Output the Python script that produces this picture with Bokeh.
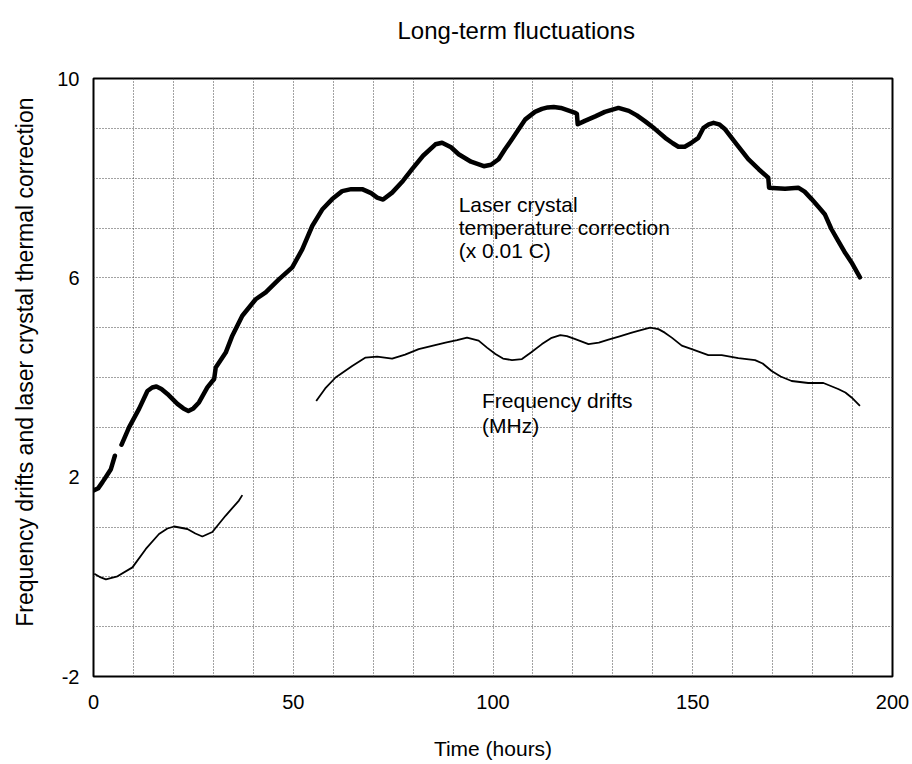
from bokeh.plotting import figure
from bokeh.models import FixedTicker, SingleIntervalTicker, Range1d, Title
from bokeh.core.properties import value
from bokeh.embed import file_html
from bokeh.resources import INLINE

# ---------------- data ----------------
x_ticks = [0, 50, 100, 150, 200]
y_ticks = [-2, 2, 6, 10]
y_tick_labels = ["-2", "2", "6", "10"]

# Laser crystal temperature correction (x 0.01 C): two pieces (gap near 6 h)
temp_seg1_x = [0, 1.2, 2.25, 3.3, 4.35, 5.35]
temp_seg1_y = [1.73, 1.78, 1.90, 2.03, 2.16, 2.43]
temp_seg2_x = [7, 8.9, 11.4, 13.5, 14.7, 15.75, 17, 18.5, 21, 22.5, 23.75, 25, 26.4,
               28.5, 30.2, 30.6, 33.1, 34.75, 37.25, 40.6, 43.1, 46.4, 49.75, 52.25,
               54.75, 57.25, 59.75, 62.25, 64.5, 67.25, 69.5, 71, 72.5, 74.75, 77.5,
               79.75, 82.5, 85.6, 87.25, 89.5, 91.4, 94.5, 97.7, 99.5, 101.4, 103,
               104.75, 108.1, 110.5, 112.25, 113.7, 115.2, 117, 118.8, 120.6, 121,
               121.2, 123, 125.6, 128, 131.4, 134, 136, 138.1, 140.5, 143.1, 145,
               146.4, 148, 149.5, 151.4, 152.7, 154, 155.2, 156.6, 158.1, 161, 163.9,
               166.5, 168.9, 169.1, 171, 173.1, 176.4, 178, 179.75, 181.5, 183.1,
               184.7, 186.4, 188, 189.75, 191.85]
temp_seg2_y = [2.65, 3.0, 3.37, 3.73, 3.80, 3.82, 3.77, 3.67, 3.47, 3.38, 3.33, 3.38, 3.50,
               3.80, 3.97, 4.2, 4.50, 4.84, 5.24, 5.57, 5.71, 5.97, 6.21, 6.57,
               7.04, 7.37, 7.58, 7.74, 7.78, 7.78, 7.70, 7.61, 7.57, 7.71, 7.95,
               8.18, 8.45, 8.68, 8.71, 8.62, 8.48, 8.33, 8.24, 8.27, 8.38, 8.58,
               8.78, 9.18, 9.33, 9.39, 9.42, 9.43, 9.41, 9.36, 9.31, 9.29,
               9.08, 9.15, 9.24, 9.33, 9.41, 9.35, 9.26, 9.14, 8.99, 8.81, 8.70,
               8.63, 8.63, 8.70, 8.81, 9.01, 9.08, 9.11, 9.08, 8.98, 8.68, 8.38,
               8.18, 8.01, 7.81, 7.80, 7.79, 7.81, 7.73, 7.58, 7.42, 7.27,
               6.98, 6.74, 6.52, 6.31, 6.01]

# Frequency drifts (MHz): two pieces
freq_seg1_x = [0.2, 1.5, 3.1, 6, 9.75, 13.1, 16.4, 18.5, 20.2, 23.5, 25.5, 27.25,
               29.75, 33.1, 36.4, 37.25]
freq_seg1_y = [0.06, 0.0, -0.05, 0.01, 0.19, 0.56, 0.86, 0.97, 1.01, 0.96, 0.87, 0.81,
               0.90, 1.23, 1.53, 1.64]
freq_seg2_x = [55.75, 58, 60.6, 64.75, 68.1, 71, 74.75, 78, 81.4, 85, 88.1, 91,
               93.5, 96.4, 98.5, 100.6, 102.5, 104.75, 107.25, 109.5, 112.25, 114.5,
               116.85, 118.5, 120.6, 123.9, 126.5, 128.9, 131.5, 134.75, 137,
               139.35, 141.4, 143, 144.75, 147.25, 149.75, 153.9, 157.25, 161.4,
               165.6, 167.5, 169.75, 172, 174.75, 178.9, 182.7, 186.4, 188.2,
               189.75, 191.85]
freq_seg2_y = [3.53, 3.78, 4.0, 4.23, 4.40, 4.42, 4.38, 4.46, 4.57, 4.64, 4.70, 4.75,
               4.80, 4.74, 4.60, 4.47, 4.38, 4.35, 4.37, 4.50, 4.67, 4.79,
               4.85, 4.83, 4.77, 4.67, 4.70, 4.76, 4.82, 4.90, 4.95,
               5.0, 4.97, 4.90, 4.80, 4.64, 4.57, 4.45, 4.45, 4.39,
               4.35, 4.28, 4.13, 4.02, 3.93, 3.89, 3.89, 3.77, 3.70,
               3.60, 3.43]

# annotation texts and anchor positions (data units)
ann_temp_lines = ["Laser crystal", "temperature correction", "(x 0.01 C)"]
ann_temp_x = [91.4, 91.4, 91.4]
ann_temp_y = [7.475, 7.01, 6.55]
ann_freq_lines = ["Frequency drifts", "(MHz)"]
ann_freq_x = [97.25, 97.25]
ann_freq_y = [3.533, 3.046]

title_text = "Long-term fluctuations"
x_label_text = "Time (hours)"
y_label_text = "Frequency drifts and laser crystal thermal correction"

FONT = "Liberation Sans"

p = figure(width=910, height=762, output_backend="svg", toolbar_location=None,
           x_range=Range1d(0, 200), y_range=Range1d(-2, 10),
           min_border_left=93, min_border_right=18, min_border_top=78,
           min_border_bottom=85)
p.background_fill_color = "white"
p.border_fill_color = "white"
p.outline_line_color = "black"
p.outline_line_width = 2

# title: a blank spacer next to the frame, then the title text
p.add_layout(Title(text=" ", text_font_size="10px", standoff=22), "above")
p.add_layout(Title(text=title_text, align="left", offset=304, standoff=0,
                   text_font=FONT, text_font_size="24px",
                   text_font_style="normal", text_color="black"), "above")

# y-axis title: spacer, then the rotated text
p.add_layout(Title(text=" ", text_font_size="10px", standoff=4), "left")
p.add_layout(Title(text=y_label_text, align="right", offset=19, standoff=0,
                   text_font=FONT, text_font_size="23px", text_font_style="normal",
                   text_color="black"), "left")

# grids
p.xgrid.ticker = SingleIntervalTicker(interval=10)
p.ygrid.ticker = SingleIntervalTicker(interval=1)
for g in (p.xgrid, p.ygrid):
    g.grid_line_color = "#444444"
    g.grid_line_dash = "1 2"
    g.grid_line_width = 1

# axes
p.xaxis.ticker = FixedTicker(ticks=x_ticks)
p.yaxis.ticker = FixedTicker(ticks=y_ticks)
p.yaxis.major_label_overrides = dict(zip(y_ticks, y_tick_labels))
for ax in (p.xaxis, p.yaxis):
    ax.axis_line_color = None
    ax.major_tick_line_color = None
    ax.minor_tick_line_color = None
    ax.major_tick_out = 0
    ax.major_tick_in = 0
    ax.minor_tick_out = 0
    ax.minor_tick_in = 0
    ax.major_label_text_font = FONT
    ax.major_label_text_font_size = "20px"
    ax.major_label_text_color = "black"
p.xaxis.major_label_standoff = 18
p.yaxis.major_label_standoff = 14
p.xaxis.axis_label = x_label_text
p.xaxis.axis_label_text_font = FONT
p.xaxis.axis_label_text_font_size = "21px"
p.xaxis.axis_label_text_font_style = "normal"
p.xaxis.axis_label_text_color = "black"
p.xaxis.axis_label_standoff = 25

# lines
p.multi_line(xs=[temp_seg1_x, temp_seg2_x], ys=[temp_seg1_y, temp_seg2_y],
             line_color="black", line_width=4.5, line_join="round", line_cap="round")
p.multi_line(xs=[freq_seg1_x, freq_seg2_x], ys=[freq_seg1_y, freq_seg2_y],
             line_color="black", line_width=1.8, line_join="round")

p.text(x=ann_temp_x, y=ann_temp_y, text=ann_temp_lines, text_font=value(FONT),
       text_font_size="21px", text_color="black", text_baseline="alphabetic",
       text_align="left")
p.text(x=ann_freq_x, y=ann_freq_y, text=ann_freq_lines, text_font=value(FONT),
       text_font_size="21px", text_color="black", text_baseline="alphabetic",
       text_align="left")

open("out.html", "w").write(file_html(p, INLINE))
